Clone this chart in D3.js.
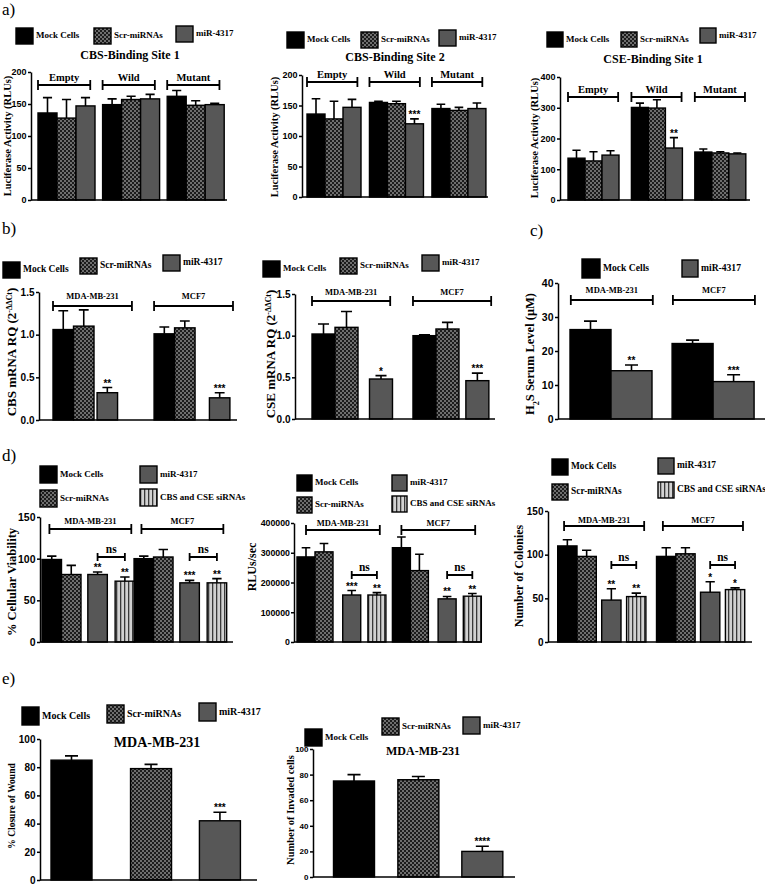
<!DOCTYPE html>
<html lang="en">
<meta charset="UTF-8">
<title>miR-4317 / CBS / CSE figure</title>
<script src="https://d3js.org/d3.v7.min.js"></script>
<style>
body { margin: 0; background: #fff; }
</style>
<body>
<div id="fig"></div>
<script>
// ---- data ----
var seriesNames = ["Mock Cells", "Scr-miRNAs", "miR-4317", "CBS and CSE siRNAs"];
var siteGroups = ["Empty", "Wild", "Mutant"];
var cellGroups = ["MDA-MB-231", "MCF7"];

// a) luciferase activity (RLUs), 3 series x 3 constructs
var cbs1Mean = [136, 128, 147, 149, 157, 158, 162, 148, 149];
var cbs1Sem  = [24, 29, 13, 9, 5, 7, 9, 7, 2];
var cbs1Stars = ["", "", "", "", "", "", "", "", ""];
var cbs2Mean = [136, 128, 147, 155, 153, 120, 145, 142, 145];
var cbs2Sem  = [25, 29, 13, 2, 4, 8, 7, 5, 9];
var cbs2Stars = ["", "", "", "", "", "***", "", "", ""];
var cse1Mean = [136, 127, 146, 301, 299, 169, 156, 153, 150];
var cse1Sem  = [26, 30, 14, 14, 27, 34, 10, 4, 3];
var cse1Stars = ["", "", "", "", "", "**", "", "", ""];

// b) mRNA RQ
var cbsRqMean = [1.06, 1.10, 0.32, 1.01, 1.08, 0.26];
var cbsRqSem  = [0.22, 0.19, 0.06, 0.08, 0.08, 0.06];
var cbsRqStars = ["", "", "**", "", "", "***"];
var cseRqMean = [1.02, 1.10, 0.48, 1.00, 1.08, 0.46];
var cseRqSem  = [0.12, 0.19, 0.04, 0.01, 0.08, 0.09];
var cseRqStars = ["", "", "*", "", "", "***"];

// c) H2S serum level (uM), mock vs miR-4317
var h2sMean = [26.3, 14.2, 22.2, 11.0];
var h2sSem  = [2.5, 1.7, 1.0, 2.0];
var h2sStars = ["", "**", "", "***"];

// d) viability, RLUs/sec, colonies
var viabMean = [99, 81, 81, 73, 100, 102, 71, 71];
var viabSem  = [4, 11, 3, 5, 3, 9, 3, 5];
var viabStars = ["", "", "**", "**", "", "", "***", "**"];
var rluMean = [286000, 303000, 158000, 158000, 317000, 240000, 145000, 154000];
var rluSem  = [31000, 28000, 15000, 8000, 36000, 55000, 8000, 9000];
var rluStars = ["", "", "***", "**", "", "", "**", "**"];
var colMean = [110, 98, 48, 52, 98, 101, 57, 60];
var colSem  = [7, 7, 13, 4, 10, 7, 12, 2];
var colStars = ["", "", "**", "**", "", "", "*", "*"];

// e) wound closure and invasion, MDA-MB-231
var woundMean = [85, 79, 42];
var woundSem  = [3, 3, 6];
var woundStars = ["", "", "***"];
var invMean = [75, 76, 20];
var invSem  = [5, 2.5, 4];
var invStars = ["", "", "****"];

// ---- drawing ----
var SERIF = "'Liberation Serif', 'Times New Roman', serif";
var SANS = "'Liberation Sans', Arial, sans-serif";

var svg = d3.select("#fig").append("svg")
    .attr("width", 765)
    .attr("height", 886);

var defs = svg.append("defs");
var chk = defs.append("pattern").attr("id", "checker")
    .attr("patternUnits", "userSpaceOnUse").attr("width", 4).attr("height", 4);
chk.append("rect").attr("width", 4).attr("height", 4).attr("fill", "#1c1c1c");
chk.append("rect").attr("width", 2).attr("height", 2).attr("fill", "#6e6e6e");
chk.append("rect").attr("x", 2).attr("y", 2).attr("width", 2).attr("height", 2).attr("fill", "#6e6e6e");
var stp = defs.append("pattern").attr("id", "stripes")
    .attr("patternUnits", "userSpaceOnUse").attr("width", 4).attr("height", 4);
stp.append("rect").attr("width", 4).attr("height", 4).attr("fill", "#d2d2d2");
stp.append("rect").attr("width", 1.3).attr("height", 4).attr("fill", "#3a3a3a");

var fills = ["#000", "url(#checker)", "#575757", "url(#stripes)"];

function label(t, x, y, size, opts) {
  opts = opts || {};
  return svg.append("text")
    .attr("x", x).attr("y", y)
    .attr("text-anchor", opts.anchor || "start")
    .style("font-family", opts.sans ? SANS : SERIF)
    .style("font-weight", opts.normal ? "normal" : "bold")
    .style("font-size", size + "px")
    .text(t);
}

function drawChart(c) {
  var g = svg.append("g");
  var nSer = c.series.length;
  var y = d3.scaleLinear().domain([0, c.max]).range([c.bottom, c.top]);
  // x in "bar width" units
  var x = d3.scaleLinear().domain([0, 1]).range([c.left, c.left + c.bw]);

  var bars = c.mean.map(function(m, i) {
    var gi = Math.floor(i / nSer), si = i % nSer;
    var slots = Array.isArray(c.slots[0]) ? c.slots[gi] : c.slots;
    return {gi: gi, s: c.series[si], slot: gi * c.step + slots[si],
            mean: m, sem: c.sem[i], star: c.stars[i]};
  });

  g.selectAll("rect.bar").data(bars).enter().append("rect")
    .attr("class", "bar")
    .attr("x", function(d) { return x(d.slot); })
    .attr("width", c.bw)
    .attr("y", function(d) { return y(d.mean); })
    .attr("height", function(d) { return y(0) - y(d.mean); })
    .attr("fill", function(d) { return fills[d.s]; })
    .attr("stroke", "#000")
    .attr("stroke-width", 1.4);

  var cap = Math.min(c.bw * 0.24, 6.5);
  g.selectAll("path.err").data(bars).enter().append("path")
    .attr("class", "err")
    .attr("d", function(d) {
      var cx = x(d.slot + 0.5), t = y(d.mean + d.sem);
      return "M" + cx + "," + y(d.mean) + "V" + t + "M" + (cx - cap) + "," + t + "H" + (cx + cap);
    })
    .attr("stroke", "#000").attr("stroke-width", 1.6).attr("fill", "none");

  g.selectAll("text.star").data(bars.filter(function(d) { return d.star; })).enter().append("text")
    .attr("class", "star")
    .attr("x", function(d) { return x(d.slot + 0.5); })
    .attr("y", function(d) { return y(d.mean + d.sem) - 1; })
    .attr("text-anchor", "middle")
    .style("font-family", SANS).style("font-weight", "bold").style("font-size", "10px")
    .text(function(d) { return d.star; });

  // axes
  var ax = g.append("g")
    .attr("transform", "translate(" + c.axisX + ",0)")
    .call(d3.axisLeft(y)
      .tickValues(d3.range(0, c.max + c.tickStep / 2, c.tickStep))
      .tickSize(3).tickSizeOuter(0).tickPadding(c.tickPad || 1.5)
      .tickFormat(d3.format(c.fmt || "d")));
  ax.select(".domain").attr("stroke-width", 1.5);
  ax.selectAll(".tick line").attr("stroke-width", 1.5);
  ax.selectAll(".tick text")
    .style("font-family", SANS).style("font-weight", "bold")
    .style("font-size", c.tickFont + "px").attr("fill", "#000");
  g.append("line")
    .attr("x1", c.axisX).attr("x2", c.right)
    .attr("y1", c.bottom).attr("y2", c.bottom)
    .attr("stroke", "#000").attr("stroke-width", 1.5);

  // group brackets
  if (c.bracket) {
    c.groups.forEach(function(name, gi) {
      var x1 = x(gi * c.step + c.bracket.off), x2 = x1 + c.bracket.len * c.bw, by = c.bracket.y;
      g.append("path")
        .attr("d", "M" + x1 + "," + (by - 5) + "V" + (by + 5) + "M" + x1 + "," + by + "H" + x2 +
                   "M" + x2 + "," + (by - 5) + "V" + (by + 5))
        .attr("stroke", "#000").attr("stroke-width", 1.8).attr("fill", "none");
      label(name, (x1 + x2) / 2, c.bracket.labelY, c.bracket.font, {anchor: "middle"});
    });
  }
  // ns brackets between bar 3 and bar 4
  if (c.ns) {
    c.groups.forEach(function(name, gi) {
      var x1 = x(gi * c.step + c.slots[2] + 0.5), x2 = x(gi * c.step + c.slots[3] + 0.5), by = c.ns.y;
      g.append("path")
        .attr("d", "M" + x1 + "," + (by - 4) + "V" + (by + 4) + "M" + x1 + "," + by + "H" + x2 +
                   "M" + x2 + "," + (by - 4) + "V" + (by + 4))
        .attr("stroke", "#000").attr("stroke-width", 1.8).attr("fill", "none");
      label("ns", (x1 + x2) / 2, by - 4, 11.5, {anchor: "middle"});
    });
  }

  // legend
  c.legend.forEach(function(L) {
    var w = L[3] || c.swW, h = L[4] || c.swH;
    svg.append("rect")
      .attr("x", L[1]).attr("y", L[2]).attr("width", w).attr("height", h)
      .attr("fill", fills[L[0]]).attr("stroke", "#000").attr("stroke-width", 1.4);
    label(seriesNames[L[0]], L[1] + w + 3, L[2] + h / 2 - 1, c.legendFont).attr("dy", "0.35em");
  });

  if (c.title) label(c.title.text, c.title.x, c.title.y, c.title.size, {anchor: "middle"});

  // rotated y label with optional sub/superscript
  var yl = svg.append("text")
    .attr("transform", "translate(" + c.ylab.x + "," + c.ylab.y + ") rotate(-90)")
    .attr("text-anchor", "middle").attr("dy", "0.35em")
    .style("font-family", SERIF).style("font-weight", "bold")
    .style("font-size", c.ylab.size + "px");
  c.ylab.parts.forEach(function(p) {
    var ts = yl.append("tspan").text(p[0]);
    if (p[1] === "sup") ts.attr("baseline-shift", "super").style("font-size", (c.ylab.size * 0.6) + "px");
    if (p[1] === "sub") ts.attr("baseline-shift", "sub").style("font-size", (c.ylab.size * 0.65) + "px");
  });
}

// panel letters
label("a)", 2, 15, 17, {normal: true});
label("b)", 2, 234, 17, {normal: true});
label("c)", 530, 236, 17, {normal: true});
label("d)", 2, 461, 17, {normal: true});
label("e)", 2, 684, 17, {normal: true});

// a) CBS-Binding Site 1
drawChart({axisX: 31, top: 72, bottom: 200, right: 227, max: 200, tickStep: 50, tickFont: 9,
  left: 38, bw: 19, slots: [0, 1, 2], step: 3.4,
  groups: siteGroups, series: [0, 1, 2], mean: cbs1Mean, sem: cbs1Sem, stars: cbs1Stars,
  bracket: {y: 85, labelY: 81, off: 0, len: 2.75, font: 10.5},
  legend: [[0, 16, 28], [1, 94, 28], [2, 176, 26]], swW: 17, swH: 16, legendFont: 9,
  title: {text: "CBS-Binding Site 1", x: 130, y: 59, size: 12},
  ylab: {x: 7, y: 136, size: 10.5, parts: [["Luciferase Activity (RLUs)"]]}});

// a) CBS-Binding Site 2
drawChart({axisX: 302, top: 75, bottom: 197, right: 488, max: 200, tickStep: 50, tickFont: 9,
  left: 307, bw: 18, slots: [0, 1, 2], step: 3.47,
  groups: siteGroups, series: [0, 1, 2], mean: cbs2Mean, sem: cbs2Sem, stars: cbs2Stars,
  bracket: {y: 82, labelY: 78, off: 0, len: 2.8, font: 10.5},
  legend: [[0, 287, 32], [1, 361, 32], [2, 439, 30]], swW: 17, swH: 16, legendFont: 9,
  title: {text: "CBS-Binding Site 2", x: 395, y: 61, size: 12},
  ylab: {x: 274, y: 137, size: 10.5, parts: [["Luciferase Activity (RLUs)"]]}});

// a) CSE-Binding Site 1
drawChart({axisX: 560, top: 77, bottom: 200, right: 750, max: 400, tickStep: 100, tickFont: 9,
  left: 568, bw: 17, slots: [0, 1, 2], step: 3.73,
  groups: siteGroups, series: [0, 1, 2], mean: cse1Mean, sem: cse1Sem, stars: cse1Stars,
  bracket: {y: 97, labelY: 93, off: 0, len: 2.95, font: 10.5},
  legend: [[0, 547, 32], [1, 621, 32], [2, 700, 28]], swW: 16, swH: 15, legendFont: 9,
  title: {text: "CSE-Binding Site 1", x: 653, y: 63, size: 12},
  ylab: {x: 534, y: 138, size: 10.5, parts: [["Luciferase Activity (RLUs)"]]}});

// b) CBS mRNA
drawChart({axisX: 39, top: 292, bottom: 420, right: 237, max: 1.5, tickStep: 0.5, fmt: ".1f", tickFont: 10,
  left: 53, bw: 20.5, slots: [[0, 1, 2.15], [0, 1, 2.7]], step: 4.93,
  groups: cellGroups, series: [0, 1, 2], mean: cbsRqMean, sem: cbsRqSem, stars: cbsRqStars,
  bracket: {y: 306, labelY: 299, off: 0, len: 3.85, font: 8.5},
  legend: [[0, 3, 262], [1, 80, 258], [2, 163, 255]], swW: 17, swH: 16, legendFont: 9.5,
  ylab: {x: 11, y: 352, size: 13, parts: [["CBS mRNA RQ (2"], ["-\u0394\u0394Ct", "sup"], [")"]]}});

// b) CSE mRNA
drawChart({axisX: 295, top: 294, bottom: 419, right: 495, max: 1.5, tickStep: 0.5, fmt: ".1f", tickFont: 10,
  left: 312, bw: 23, slots: [[0, 1, 2.5], [0, 1, 2.3]], step: 4.39,
  groups: cellGroups, series: [0, 1, 2], mean: cseRqMean, sem: cseRqSem, stars: cseRqStars,
  bracket: {y: 301, labelY: 295, off: 0, len: 3.4, font: 8.5},
  legend: [[0, 263, 261], [1, 340, 258], [2, 422, 255]], swW: 17, swH: 16, legendFont: 9,
  ylab: {x: 270, y: 354, size: 13, parts: [["CSE mRNA RQ (2"], ["-\u0394\u0394Ct", "sup"], [")"]]}});

// c) H2S serum level
drawChart({axisX: 558, top: 283, bottom: 419, right: 765, max: 40, tickStep: 10, tickFont: 10.5,
  left: 570, bw: 41, slots: [0, 1], step: 2.49,
  groups: cellGroups, series: [0, 2], mean: h2sMean, sem: h2sSem, stars: h2sStars,
  bracket: {y: 300, labelY: 293, off: 0.02, len: 2.0, font: 8.5},
  legend: [[0, 582, 259, 18, 19], [2, 682, 260, 16, 17]], legendFont: 9.6,
  ylab: {x: 530, y: 354, size: 12.5, parts: [["H"], ["2", "sub"], ["S Serum Level (\u03bcM)"]]}});

// d) cellular viability
drawChart({axisX: 40, top: 517, bottom: 642, right: 233, max: 150, tickStep: 50, tickFont: 10.5,
  left: 42, bw: 19.5, slots: [0, 1, 2.35, 3.75], step: 4.72,
  groups: cellGroups, series: [0, 1, 2, 3], mean: viabMean, sem: viabSem, stars: viabStars,
  bracket: {y: 529, labelY: 524, off: 0.38, len: 4.2, font: 8.5}, ns: {y: 557},
  legend: [[0, 40, 466], [2, 140, 466], [1, 40, 490], [3, 140, 489]], swW: 17, swH: 17, legendFont: 9,
  ylab: {x: 12, y: 582, size: 12.5, parts: [["% Cellular Viability"]]}});

// d) RLUs/sec
drawChart({axisX: 294, top: 523, bottom: 642, right: 482, max: 400000, tickStep: 100000, tickFont: 8.8, tickPad: 1,
  left: 297, bw: 18, slots: [0, 1, 2.54, 3.94], step: 5.3,
  groups: cellGroups, series: [0, 1, 2, 3], mean: rluMean, sem: rluSem, stars: rluStars,
  bracket: {y: 530, labelY: 526, off: 0.5, len: 4.1, font: 8.5}, ns: {y: 575},
  legend: [[0, 297, 475], [2, 392, 475], [1, 297, 497], [3, 392, 496]], swW: 15, swH: 16, legendFont: 9,
  ylab: {x: 252, y: 567, size: 12, parts: [["RLUs/sec"]]}});

// d) number of colonies
drawChart({axisX: 548, top: 511, bottom: 642, right: 752, max: 150, tickStep: 50, tickFont: 10,
  left: 557.7, bw: 19.3, slots: [0, 1, 2.28, 3.57], step: 5.12,
  groups: cellGroups, series: [0, 1, 2, 3], mean: colMean, sem: colSem, stars: colStars,
  bracket: {y: 526, labelY: 523, off: 0.33, len: 4.15, font: 8.5}, ns: {y: 565},
  legend: [[0, 552, 459], [2, 658, 458], [1, 552, 484], [3, 658, 482]], swW: 16, swH: 16, legendFont: 9.4,
  ylab: {x: 519, y: 576, size: 12, parts: [["Number of Colonies"]]}});

// e) wound closure
drawChart({axisX: 40, top: 739, bottom: 880, right: 257, max: 100, tickStep: 20, tickFont: 10,
  left: 51, bw: 41, slots: [0, 1.94, 3.62], step: 0,
  groups: ["MDA-MB-231"], series: [0, 1, 2], mean: woundMean, sem: woundSem, stars: woundStars,
  legend: [[0, 22, 707, 17, 18], [1, 107, 705, 17, 18], [2, 199, 703, 17, 18]], legendFont: 10,
  title: {text: "MDA-MB-231", x: 157, y: 747, size: 14},
  ylab: {x: 12, y: 806, size: 9.5, parts: [["% Closure of Wound"]]}});

// e) invasion
drawChart({axisX: 313, top: 749, bottom: 877, right: 515, max: 100, tickStep: 20, tickFont: 8,
  left: 333.5, bw: 41, slots: [0, 1.57, 3.13], step: 0,
  groups: ["MDA-MB-231"], series: [0, 1, 2], mean: invMean, sem: invSem, stars: invStars,
  legend: [[0, 305, 729], [1, 382, 718], [2, 463, 717]], swW: 17, swH: 17, legendFont: 9,
  title: {text: "MDA-MB-231", x: 423, y: 755, size: 12},
  ylab: {x: 290, y: 810, size: 10.5, parts: [["Number of Invaded cells"]]}});
</script>
</body>
</html>
